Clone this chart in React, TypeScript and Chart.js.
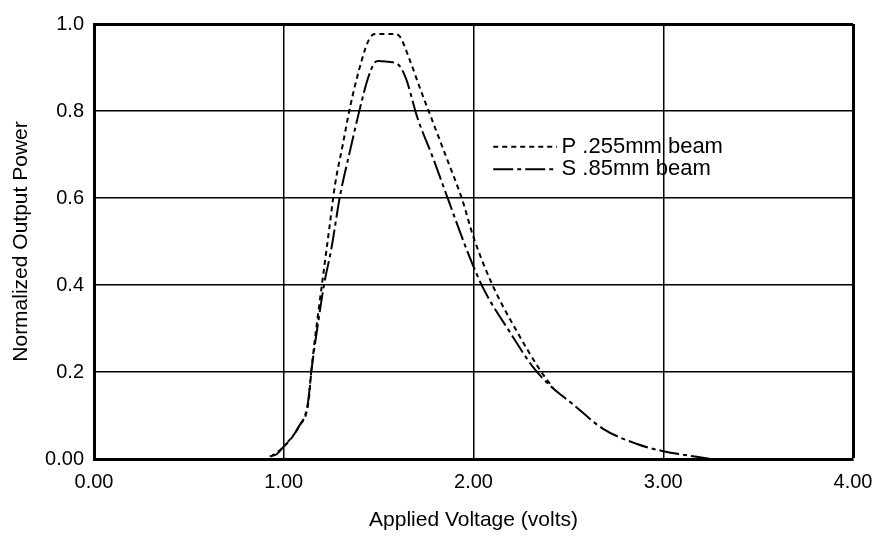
import React, { useEffect, useRef } from 'react';
import { Chart, registerables } from 'chart.js';

Chart.register(...registerables);

// Applied voltage (volts) and normalized output power, P .255mm beam (dashed)
const pVolts = [0.93, 1.0, 1.08, 1.13, 1.145, 1.16, 1.18, 1.21, 1.24, 1.27, 1.31, 1.35, 1.41, 1.45, 1.48, 1.58, 1.61, 1.66, 1.72, 1.79, 1.86, 1.94, 2.0, 2.1, 2.22, 2.35, 2.42];
const pPower = [0.005, 0.028, 0.075, 0.13, 0.2, 0.26, 0.33, 0.43, 0.53, 0.63, 0.72, 0.81, 0.915, 0.965, 0.977, 0.977, 0.972, 0.922, 0.85, 0.77, 0.69, 0.597, 0.51, 0.4, 0.3, 0.205, 0.163];

// S .85mm beam (dash-dot)
const sVolts = [0.926, 0.963, 0.998, 1.079, 1.127, 1.146, 1.18, 1.214, 1.25, 1.297, 1.35, 1.397, 1.443, 1.477, 1.5, 1.55, 1.6, 1.643, 1.704, 1.785, 1.861, 1.978, 2.053, 2.188, 2.316, 2.41, 2.518, 2.681, 2.858, 3.0, 3.176, 3.25];
const sPower = [0.006, 0.011, 0.028, 0.074, 0.128, 0.204, 0.31, 0.405, 0.481, 0.606, 0.71, 0.798, 0.874, 0.91, 0.915, 0.913, 0.908, 0.876, 0.785, 0.694, 0.603, 0.466, 0.391, 0.294, 0.21, 0.166, 0.128, 0.07, 0.035, 0.018, 0.005, 0.0];

const xTickLabels = ['0.00', '1.00', '2.00', '3.00', '4.00'];
const yTickLabels = ['0.00', '0.2', '0.4', '0.6', '0.8', '1.0'];
const seriesLabels = ['P .255mm beam', 'S .85mm beam'];
const xTitle = 'Applied Voltage (volts)';
const yTitle = 'Normalized Output Power';

const FONT = '"Liberation Sans", Arial, Helvetica, sans-serif';
const P_DASH = [5, 4];
const S_DASH = [20, 4, 4, 4];

const inlineLegend = {
  id: 'inlineLegend',
  afterDatasetsDraw(chart: any) {
    const { ctx, chartArea: a } = chart;
    const w = a.right - a.left;
    const h = a.bottom - a.top;
    const x0 = a.left + w * 0.526;
    const x1 = a.left + w * 0.61;
    const tx = a.left + w * 0.616;
    const rows = [a.top + h * 0.282, a.top + h * 0.334];
    const dashes = [P_DASH, S_DASH];
    ctx.save();
    ctx.font = `22px ${FONT}`;
    ctx.fillStyle = '#000';
    ctx.strokeStyle = '#000';
    ctx.lineWidth = 2;
    ctx.textBaseline = 'middle';
    ctx.textAlign = 'left';
    rows.forEach((y, i) => {
      ctx.setLineDash(dashes[i]);
      ctx.beginPath();
      ctx.moveTo(x0, y);
      ctx.lineTo(x1, y);
      ctx.stroke();
      ctx.setLineDash([]);
      ctx.fillText(seriesLabels[i], tx, y);
    });
    ctx.restore();
  },
};

export default function App() {
  const ref = useRef<HTMLCanvasElement>(null);

  useEffect(() => {
    if (!ref.current) return;
    const chart = new Chart(ref.current, {
      type: 'line',
      data: {
        datasets: [
          {
            label: seriesLabels[0],
            data: pVolts.map((x, i) => ({ x, y: pPower[i] })),
            borderColor: '#000',
            borderWidth: 2,
            borderDash: P_DASH,
            pointRadius: 0,
            fill: false,
            cubicInterpolationMode: 'monotone',
          },
          {
            label: seriesLabels[1],
            data: sVolts.map((x, i) => ({ x, y: sPower[i] })),
            borderColor: '#000',
            borderWidth: 2,
            borderDash: S_DASH,
            pointRadius: 0,
            fill: false,
            cubicInterpolationMode: 'monotone',
          },
        ],
      },
      options: {
        animation: false,
        responsive: false,
        maintainAspectRatio: false,
        layout: { padding: { left: 0, right: 21, top: 24, bottom: 0 } },
        plugins: {
          legend: { display: false },
          tooltip: { enabled: false },
        },
        scales: {
          x: {
            type: 'linear',
            min: 0,
            max: 4,
            afterFit: (s: any) => {
              s.height = 78;
              s.paddingLeft = 0;
              s.paddingRight = 0;
            },
            ticks: {
              stepSize: 1,
              padding: 11,
              color: '#000',
              font: { family: FONT, size: 20 },
              maxRotation: 0,
              callback: (v: any) => xTickLabels[Math.round(Number(v))] ?? '',
            },
            grid: {
              color: '#000',
              drawTicks: false,
              lineWidth: (c: any) => (c.tick && c.tick.value === 4 ? 3 : 1.5),
            },
            border: { display: true, color: '#000', width: 3 },
            title: {
              display: true,
              text: xTitle,
              color: '#000',
              font: { family: FONT, size: 21 },
              padding: { top: 0, bottom: 4 },
            },
          },
          y: {
            min: 0,
            max: 1,
            afterFit: (s: any) => {
              s.width = 94;
              s.paddingTop = 0;
              s.paddingBottom = 0;
            },
            ticks: {
              stepSize: 0.2,
              padding: 10,
              color: '#000',
              font: { family: FONT, size: 20 },
              callback: (v: any) => yTickLabels[Math.round(Number(v) * 5)] ?? '',
            },
            grid: {
              color: '#000',
              drawTicks: false,
              lineWidth: (c: any) => (c.tick && Math.abs(c.tick.value - 1) < 1e-6 ? 3 : 1.5),
            },
            border: { display: true, color: '#000', width: 3 },
            title: {
              display: true,
              text: yTitle,
              color: '#000',
              font: { family: FONT, size: 21 },
              padding: { top: 9, bottom: 0 },
            },
          },
        },
      },
      plugins: [inlineLegend],
    });
    return () => chart.destroy();
  }, []);

  return (
    <div style={{ position: 'absolute', left: 0, top: 0, width: 874, height: 537, background: '#fff' }}>
      <canvas ref={ref} width={874} height={537} style={{ display: 'block', width: 874, height: 537 }} />
    </div>
  );
}
